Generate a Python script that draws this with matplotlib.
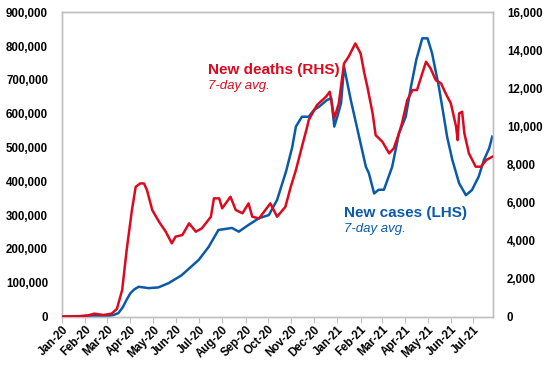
import numpy as np
import pandas as pd
from matplotlib import pyplot as plt
import matplotlib.dates as mdates
from matplotlib.ticker import FuncFormatter, FixedLocator

plt.rcParams['font.family'] = ['Liberation Sans', 'DejaVu Sans']

#%% data (7-day averages)
case_dates = ['2020-01-01', '2020-01-20', '2020-02-01', '2020-02-12', '2020-02-20', '2020-03-03',
              '2020-03-09', '2020-03-16', '2020-03-22', '2020-03-27', '2020-04-01', '2020-04-06',
              '2020-04-12', '2020-04-25', '2020-05-08', '2020-05-22', '2020-06-08', '2020-07-01',
              '2020-07-14', '2020-07-27', '2020-08-14', '2020-08-23', '2020-09-05', '2020-09-19',
              '2020-10-02', '2020-10-13', '2020-10-25', '2020-11-02', '2020-11-07', '2020-11-15',
              '2020-11-24', '2020-12-01', '2020-12-08', '2020-12-18', '2020-12-24', '2020-12-28',
              '2021-01-01', '2021-01-06', '2021-01-10', '2021-01-19', '2021-01-30', '2021-02-08',
              '2021-02-12', '2021-02-19', '2021-02-25', '2021-03-04', '2021-03-15', '2021-03-24',
              '2021-04-02', '2021-04-09', '2021-04-16', '2021-04-24', '2021-05-01', '2021-05-07',
              '2021-05-16', '2021-05-23', '2021-05-27', '2021-06-03', '2021-06-12', '2021-06-21',
              '2021-06-29', '2021-07-08', '2021-07-15', '2021-07-22', '2021-07-26']
new_cases = [0, 100, 1500, 2500, 2000, 2000,
             4000, 10000, 28000, 50000, 69000, 80000,
             88000, 84000, 86000, 99000, 122000, 168000,
             206000, 256000, 262000, 251000, 271000, 291000,
             300000, 345000, 430000, 500000, 562000, 591000,
             591000, 611000, 621000, 640000, 646000, 562000,
             591000, 631000, 739000, 640000, 532000, 443000,
             424000, 364000, 375000, 375000, 443000, 542000,
             591000, 680000, 759000, 823000, 823000, 779000,
             680000, 587000, 532000, 463000, 394000, 359000,
             374000, 414000, 463000, 498000, 532000]

death_dates = ['2020-01-01', '2020-01-25', '2020-02-05', '2020-02-13', '2020-02-25', '2020-03-07',
               '2020-03-14', '2020-03-21', '2020-03-27', '2020-04-03', '2020-04-08', '2020-04-14',
               '2020-04-19', '2020-04-23', '2020-04-30', '2020-05-09', '2020-05-18', '2020-05-26',
               '2020-05-31', '2020-06-09', '2020-06-18', '2020-06-27', '2020-07-05', '2020-07-17',
               '2020-07-21', '2020-07-28', '2020-08-01', '2020-08-12', '2020-08-19', '2020-08-28',
               '2020-09-05', '2020-09-10', '2020-09-19', '2020-10-04', '2020-10-13', '2020-10-24',
               '2020-10-31', '2020-11-07', '2020-11-15', '2020-11-22', '2020-11-24', '2020-12-05',
               '2020-12-17', '2020-12-22', '2020-12-28', '2021-01-03', '2021-01-10', '2021-01-16',
               '2021-01-25', '2021-02-01', '2021-02-06', '2021-02-10', '2021-02-17', '2021-02-21',
               '2021-03-02', '2021-03-11', '2021-03-17', '2021-03-24', '2021-03-28', '2021-04-04',
               '2021-04-11', '2021-04-17', '2021-04-24', '2021-04-29', '2021-05-05', '2021-05-12',
               '2021-05-19', '2021-05-25', '2021-06-01', '2021-06-08', '2021-06-10', '2021-06-12',
               '2021-06-16', '2021-06-19', '2021-06-25', '2021-07-04', '2021-07-11', '2021-07-18',
               '2021-07-26']
new_deaths = [0, 20, 60, 150, 80, 150,
              400, 1390, 3500, 5600, 6820, 7000,
              7000, 6650, 5600, 4985, 4460, 3850,
              4200, 4285, 4900, 4460, 4640, 5250,
              6215, 6215, 5690, 6300, 5600, 5430,
              5950, 5250, 5160, 5950, 5250, 5770,
              6800, 7700, 8930, 9980, 10330, 11120,
              11560, 11820, 10420, 11210, 13310, 13660,
              14360, 13840, 12790, 12080, 10680, 9540,
              9190, 8580, 8840, 9630, 10160, 11380,
              11910, 11910, 12790, 13400, 13050, 12430,
              12260, 11740, 11210, 9980, 9280, 10680,
              10770, 9630, 8580, 7880, 7880, 8230,
              8400]

case_dates = pd.to_datetime(case_dates)
death_dates = pd.to_datetime(death_dates)

red = '#DC0A1E'
blue = '#0A5AAA'
grey = '#BFBFBF'

#%% figure
fig = plt.figure(figsize=(5.48, 3.66), dpi=100)
ax = fig.add_axes([0.1131, 0.1352, 0.7865, 0.8312])
ax2 = ax.twinx()

ax.plot(case_dates, new_cases, color=blue, lw=1.8, zorder=2)
ax2.plot(death_dates, new_deaths, color=red, lw=1.8, zorder=3)

ax.set_xlim(pd.Timestamp('2020-01-01'), pd.Timestamp('2021-07-27'))
ax.set_ylim(0, 900000)
ax2.set_ylim(0, 16000)

ax.set_yticks(np.arange(0, 900001, 100000))
ax2.set_yticks(np.arange(0, 16001, 2000))
ax.yaxis.set_major_formatter(FuncFormatter(lambda v, p: f'{v:,.0f}'))
ax2.yaxis.set_major_formatter(FuncFormatter(lambda v, p: f'{v:,.0f}'))

month_ticks = pd.date_range('2020-01-01', '2021-07-01', freq='MS')
ax.xaxis.set_major_locator(FixedLocator(mdates.date2num(month_ticks)))
ax.xaxis.set_major_formatter(mdates.DateFormatter('%b-%y'))

for a in [ax, ax2]:
    for s in a.spines.values():
        s.set_color(grey)
        s.set_linewidth(1.0)
    a.tick_params(axis='y', length=0, labelsize=8.3, pad=10)
    for lbl in a.get_yticklabels():
        lbl.set_fontweight('bold')

ax.tick_params(axis='x', length=4, color=grey, direction='out', labelsize=8.3, pad=1)
for lbl in ax.get_xticklabels():
    lbl.set_fontweight('bold')
    lbl.set_rotation(45)
    lbl.set_ha('right')
    lbl.set_rotation_mode('anchor')

# series labels
fig.text(208/548, 1-70/366, 'New deaths (RHS)', color=red, fontsize=11, fontweight='bold', va='center', ha='left')
fig.text(208/548, 1-86/366, '7-day avg.', color=red, fontsize=9.5, style='italic', va='center', ha='left')
fig.text(344/548, 1-213/366, 'New cases (LHS)', color=blue, fontsize=11, fontweight='bold', va='center', ha='left')
fig.text(344/548, 1-229/366, '7-day avg.', color=blue, fontsize=9.5, style='italic', va='center', ha='left')

plt.savefig('out.png', dpi=100)
